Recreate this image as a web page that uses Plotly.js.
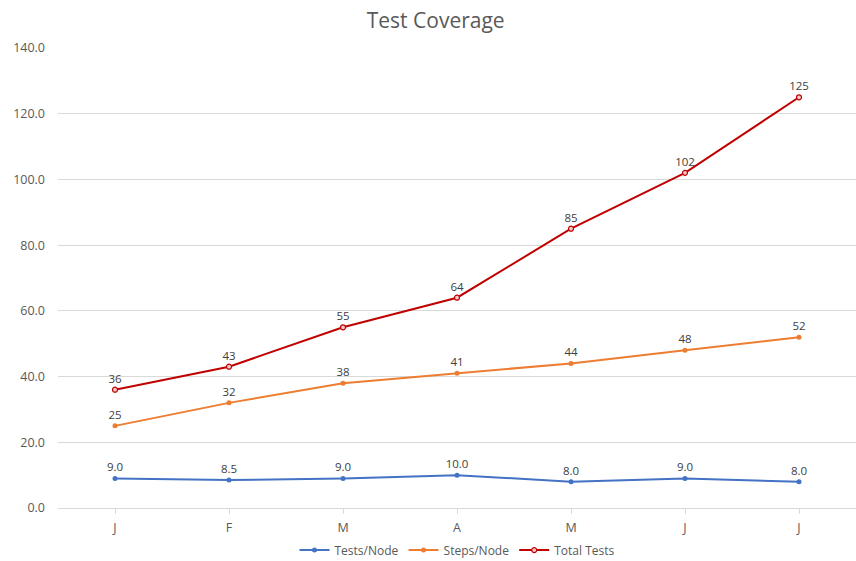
<!DOCTYPE html>
<html>
<head>
<meta charset="utf-8">
<script src="https://cdn.plot.ly/plotly-3.0.1.min.js"></script>
<style>html,body{margin:0;padding:0;background:#fff;}#chart{width:856px;height:561px;}</style>
</head>
<body>
<div id="chart"></div>
<script>
var months = ["J", "F", "M", "A", "M", "J", "J"];
var testsPerNode = [9.0, 8.5, 9.0, 10.0, 8.0, 9.0, 8.0];
var stepsPerNode = [25, 32, 38, 41, 44, 48, 52];
var totalTests = [36, 43, 55, 64, 85, 102, 125];
var yTicks = [0, 20, 40, 60, 80, 100, 120, 140];

var idx = months.map(function(_, i){ return i; });
var labelFont = {family: "Open Sans, Lato, sans-serif", size: 11.5, color: "#404040"};

var traces = [
  {name: "Tests/Node", x: idx, y: testsPerNode, type: "scatter", mode: "lines+markers+text",
   line: {color: "#4472C4", width: 2}, marker: {color: "#4472C4", size: 5},
   texttemplate: "%{y:.1f}", textposition: "top center", textfont: labelFont, cliponaxis: false},
  {name: "Steps/Node", x: idx, y: stepsPerNode, type: "scatter", mode: "lines+markers+text",
   line: {color: "#ED7D31", width: 2}, marker: {color: "#ED7D31", size: 5},
   texttemplate: "%{y:.0f}", textposition: "top center", textfont: labelFont, cliponaxis: false},
  {name: "Total Tests", x: idx, y: totalTests, type: "scatter", mode: "lines+markers+text",
   line: {color: "#C00000", width: 2}, marker: {color: "#F4CCCC", size: 5, line: {color: "#C00000", width: 1.2}},
   texttemplate: "%{y:.0f}", textposition: "top center", textfont: labelFont, cliponaxis: false}
];

var layout = {
  width: 856, height: 561,
  margin: {l: 58, r: 0, t: 48, b: 53, autoexpand: false},
  paper_bgcolor: "#fff", plot_bgcolor: "#fff",
  font: {family: "Open Sans, Lato, sans-serif", color: "#595959", size: 12},
  title: {text: "Test Coverage", x: 0.509, xanchor: "center", y: 0.963, yanchor: "middle",
          font: {size: 21, color: "#595959", family: "Open Sans, Lato, sans-serif"}},
  showlegend: true,
  legend: {orientation: "h", x: 0.5, xanchor: "center", y: -0.06, yanchor: "top",
           font: {size: 12, color: "#595959"}, itemwidth: 30, traceorder: "normal"},
  xaxis: {range: [-0.5, 6.5], tickmode: "array", tickvals: idx, ticktext: months,
          showgrid: false, zeroline: false, showline: true, linecolor: "#D9D9D9", linewidth: 1,
          ticks: "outside", tickson: "boundaries", ticklen: 5, tickcolor: "#D9D9D9",
          tickfont: {size: 12.5, color: "#595959"}, ticklabelstandoff: 3, fixedrange: true},
  yaxis: {range: [0, 140], tickmode: "array", tickvals: yTicks,
          ticktext: yTicks.map(function(v){ return v.toFixed(1); }),
          showgrid: true, gridcolor: "#D9D9D9", gridwidth: 1, zeroline: false, showline: false,
          ticks: "", tickfont: {size: 12.5, color: "#595959"}, ticklabelstandoff: 12, fixedrange: true}
};

Plotly.newPlot("chart", traces, layout, {displayModeBar: false, staticPlot: true});
</script>
</body>
</html>
